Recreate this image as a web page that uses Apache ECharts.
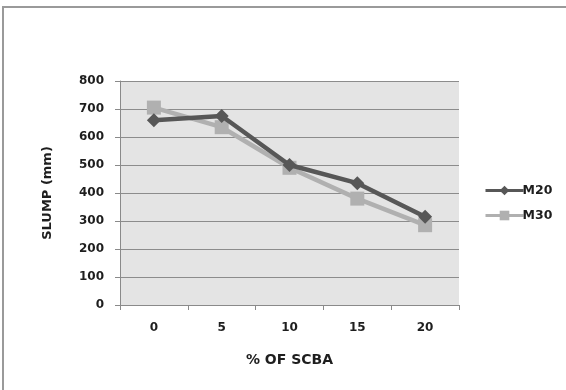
<!DOCTYPE html>
<html>
<head>
<meta charset="utf-8">
<style>html,body{margin:0;padding:0;background:#fff;}#c{width:566px;height:390px;}</style>
<script src="https://cdn.jsdelivr.net/npm/echarts@6/dist/echarts.min.js"></script>
</head>
<body>
<div id="c"></div>
<script>
const categories = ['0', '5', '10', '15', '20'];
const m20 = [660, 675, 500, 435, 315];
const m30 = [705, 635, 490, 380, 285];
const yTicks = { min: 0, max: 800, interval: 100 };

const chart = echarts.init(document.getElementById('c'), null, { renderer: 'canvas' });
const font = '"DejaVu Sans", sans-serif';
chart.setOption({
  animation: false,
  backgroundColor: '#fff',
  graphic: [{
    type: 'polyline',
    shape: { points: [[3, 400], [3, 7], [580, 7]] },
    style: { stroke: '#9a9a9a', lineWidth: 2, fill: null },
    silent: true
  }],
  grid: {
    left: 120, right: 107, top: 81, bottom: 85,
    show: true, backgroundColor: '#e4e4e4', borderWidth: 0
  },
  legend: {
    orient: 'vertical',
    left: 479, top: 179,
    itemWidth: 38, itemHeight: 12, itemGap: 12,
    lineStyle: { width: 3 },
    textStyle: { fontFamily: font, fontWeight: 'bold', fontSize: 12.5, color: '#1e1e1e', padding: [0, 0, 0, -6] },
    data: ['M20', 'M30']
  },
  xAxis: {
    type: 'category',
    data: categories,
    boundaryGap: true,
    name: '% OF SCBA',
    nameLocation: 'middle',
    nameGap: 48,
    nameTextStyle: { fontFamily: font, fontWeight: 'bold', fontSize: 14, color: '#1e1e1e' },
    axisLine: { lineStyle: { color: '#8a8a8a', width: 1 } },
    axisTick: { show: true, length: 5, lineStyle: { color: '#8a8a8a' } },
    axisLabel: { fontFamily: font, fontWeight: 'bold', fontSize: 12, color: '#1e1e1e', margin: 17 }
  },
  yAxis: {
    type: 'value',
    min: yTicks.min, max: yTicks.max, interval: yTicks.interval,
    name: 'SLUMP (mm)',
    nameLocation: 'middle',
    nameGap: 66,
    nameRotate: 90,
    nameTextStyle: { fontFamily: font, fontWeight: 'bold', fontSize: 13, color: '#1e1e1e' },
    axisLine: { show: true, lineStyle: { color: '#8a8a8a', width: 1 } },
    axisTick: { show: true, length: 5, lineStyle: { color: '#8a8a8a' } },
    axisLabel: { fontFamily: font, fontWeight: 'bold', fontSize: 12, color: '#1e1e1e', margin: 16 },
    splitLine: { show: true, lineStyle: { color: '#8c8c8c', width: 1 } }
  },
  series: [
    {
      name: 'M20', type: 'line', data: m20,
      symbol: 'diamond', symbolSize: 14,
      lineStyle: { color: '#575757', width: 4.5 },
      itemStyle: { color: '#575757' },
      z: 3
    },
    {
      name: 'M30', type: 'line', data: m30,
      symbol: 'rect', symbolSize: 14,
      lineStyle: { color: '#b0b0b0', width: 4.5 },
      itemStyle: { color: '#b0b0b0' },
      z: 2
    }
  ]
});
</script>
</body>
</html>
